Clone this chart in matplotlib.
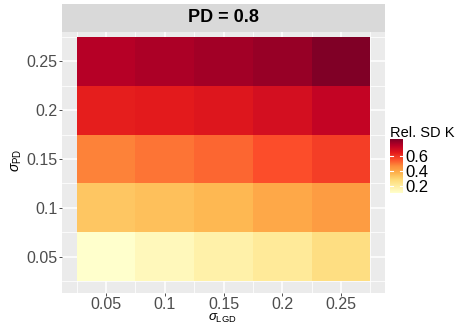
import numpy as np
import matplotlib
matplotlib.use("Agg")
import matplotlib.pyplot as plt
from matplotlib import colors

plt.rcParams['font.family'] = ['Liberation Sans', 'DejaVu Sans']
plt.rcParams['mathtext.fontset'] = 'custom'
plt.rcParams['mathtext.rm'] = 'Liberation Sans'
plt.rcParams['mathtext.it'] = 'Liberation Sans:italic'

sigma_lgd = [0.05, 0.10, 0.15, 0.20, 0.25]
sigma_pd = [0.05, 0.10, 0.15, 0.20, 0.25]
x_labels = ["0.05", "0.1", "0.15", "0.2", "0.25"]
y_labels = ["0.05", "0.1", "0.15", "0.2", "0.25"]

# relative SD of K, rows = sigma_PD, columns = sigma_LGD
rel_sd_k = np.array([
    [0.110, 0.145, 0.180, 0.215, 0.265],
    [0.330, 0.345, 0.365, 0.400, 0.430],
    [0.480, 0.500, 0.520, 0.555, 0.580],
    [0.635, 0.640, 0.655, 0.680, 0.715],
    [0.740, 0.755, 0.770, 0.785, 0.820],
])
legend_ticks = [0.2, 0.4, 0.6]
title = "PD = 0.8"

W, H = 459, 325
fig = plt.figure(figsize=(W / 100, H / 100), dpi=100)

def box(x0, y0, x1, y1):
    return [x0 / W, 1 - y1 / H, (x1 - x0) / W, (y1 - y0) / H]

ax = fig.add_axes(box(62, 32, 385, 293))
ax.set_facecolor('#EBEBEB')

cmap = plt.get_cmap('YlOrRd')
norm = colors.Normalize(vmin=rel_sd_k.min(), vmax=rel_sd_k.max())

step = 0.05
xe = np.append(np.array(sigma_lgd) - step / 2, sigma_lgd[-1] + step / 2)
ye = np.append(np.array(sigma_pd) - step / 2, sigma_pd[-1] + step / 2)

# grid lines (major at ticks, minor in between)
for v in sigma_lgd:
    ax.axvline(v, color='white', lw=1.1, zorder=0)
for v in xe:
    ax.axvline(v, color='white', lw=0.55, zorder=0)
for v in sigma_pd:
    ax.axhline(v, color='white', lw=1.1, zorder=0)
for v in ye:
    ax.axhline(v, color='white', lw=0.55, zorder=0)

ax.pcolormesh(xe, ye, rel_sd_k, cmap=cmap, norm=norm, zorder=1)

ax.set_xlim(0.0125, 0.2875)
ax.set_ylim(0.0127, 0.2801)
ax.set_xticks(sigma_lgd)
ax.set_xticklabels(x_labels)
ax.set_yticks(sigma_pd)
ax.set_yticklabels(y_labels)
ax.tick_params(labelsize=11.5, labelcolor='#4D4D4D', color='#333333',
               length=2, width=0.6, pad=1)
for s in ax.spines.values():
    s.set_visible(False)

# axis titles
fig.text(222 / W, 1 - 325 / H, r'$\sigma_{\mathrm{LGD}}$', fontsize=9.5,
         ha='center', va='bottom')
fig.text(17 / W, 1 - 160 / H, r'$\sigma_{\mathrm{PD}}$', fontsize=10,
         ha='center', va='center', rotation=90)

# facet strip
strip = fig.add_axes(box(62, 4, 385, 32))
strip.set_facecolor('#D9D9D9')
strip.set_xticks([])
strip.set_yticks([])
for s in strip.spines.values():
    s.set_visible(False)
strip.text(0.5, 0.5, title, ha='center', va='center', fontsize=13,
           fontweight='bold', transform=strip.transAxes)

# colour bar legend
cax = fig.add_axes(box(390, 139, 403, 193))
grad = np.linspace(rel_sd_k.min(), rel_sd_k.max(), 200).reshape(-1, 1)
cax.imshow(grad, cmap=cmap, norm=norm, aspect='auto', origin='lower',
           extent=[0, 1, rel_sd_k.min(), rel_sd_k.max()])
cax.set_xlim(0, 1)
cax.set_ylim(rel_sd_k.min(), rel_sd_k.max())
cax.set_xticks([])
cax.yaxis.tick_right()
cax.set_yticks(legend_ticks)
cax.set_yticklabels([f"{t:.1f}" for t in legend_ticks])
cax.tick_params(axis='y', length=0, labelsize=12, pad=2)
for t in legend_ticks:
    cax.plot([0, 0.2], [t, t], color='white', lw=0.8)
    cax.plot([0.8, 1], [t, t], color='white', lw=0.8)
for s in cax.spines.values():
    s.set_visible(False)
fig.text(390 / W, 1 - 133 / H, "Rel. SD K", fontsize=10.5, ha='left', va='center')

fig.savefig('out.png', dpi=100)
